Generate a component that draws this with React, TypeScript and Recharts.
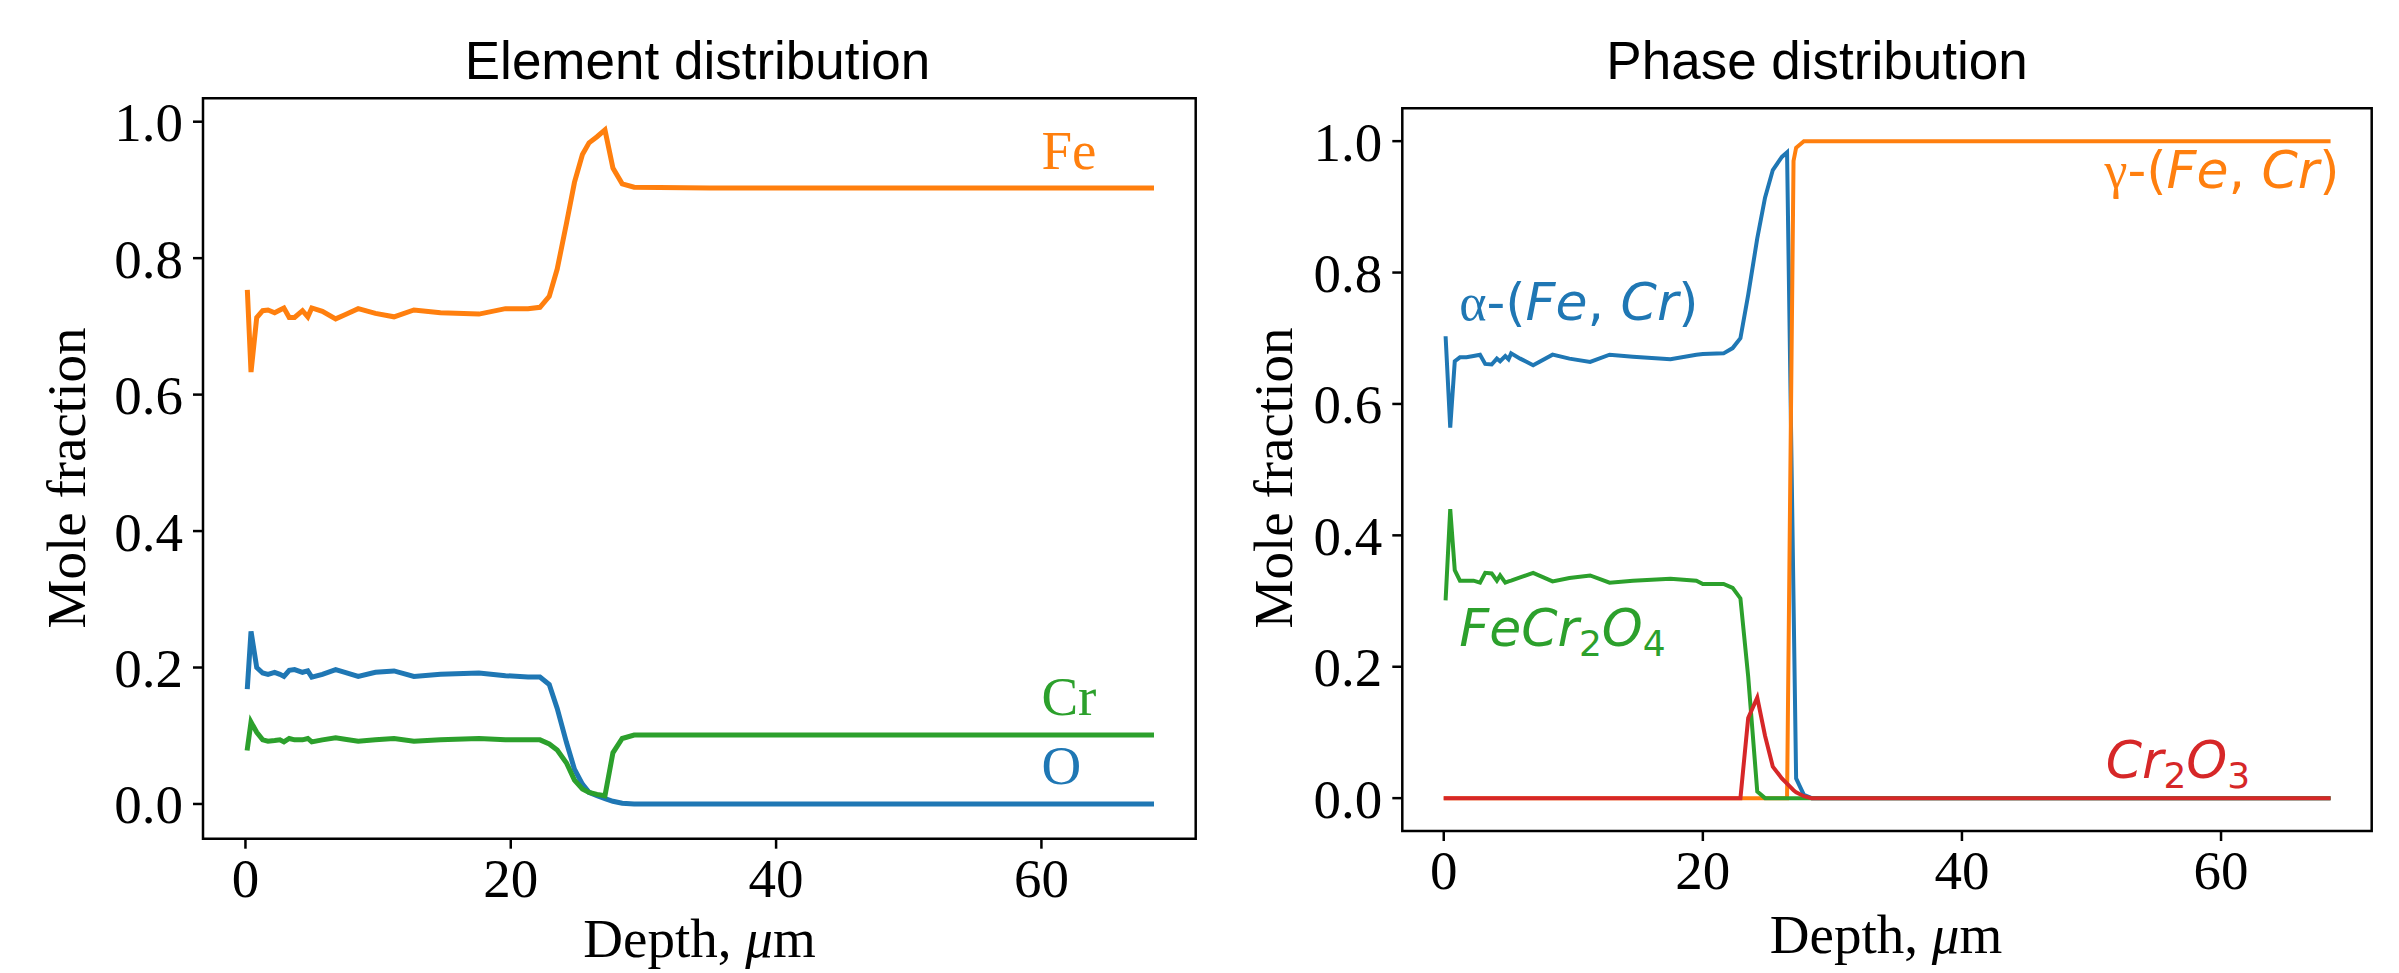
import React from 'react';
import { LineChart, Line, XAxis, YAxis, ReferenceArea, ReferenceDot } from 'recharts';

// ---------- Data: Element distribution ----------
const depthElem = [0.15, 0.42, 0.85, 1.3, 1.7, 2.2, 2.6, 2.9, 3.3, 3.7, 4.3, 4.7, 5.0, 5.8, 6.8, 7.5, 8.5, 9.8, 11.2, 12.7, 14.7, 17.6, 19.6, 21.3, 22.2, 22.9, 23.5, 24.2, 24.8, 25.4, 25.9, 26.5, 27.1, 27.7, 28.4, 29.3, 35, 68.3];
const feFrac = [0.75, 0.633, 0.713, 0.723, 0.724, 0.72, 0.724, 0.727, 0.713, 0.713, 0.723, 0.714, 0.727, 0.722, 0.711, 0.717, 0.726, 0.719, 0.714, 0.724, 0.72, 0.718, 0.726, 0.726, 0.728, 0.744, 0.784, 0.851, 0.911, 0.952, 0.969, 0.978, 0.988, 0.932, 0.909, 0.904, 0.903, 0.903];
const oFrac = [0.172, 0.253, 0.2, 0.192, 0.19, 0.193, 0.19, 0.187, 0.196, 0.197, 0.193, 0.195, 0.186, 0.19, 0.197, 0.193, 0.187, 0.193, 0.195, 0.187, 0.19, 0.192, 0.188, 0.186, 0.186, 0.175, 0.14, 0.09, 0.051, 0.029, 0.017, 0.012, 0.008, 0.004, 0.001, 0, 0, 0];
const crFrac = [0.082, 0.12, 0.105, 0.094, 0.092, 0.093, 0.094, 0.091, 0.096, 0.094, 0.094, 0.096, 0.091, 0.094, 0.097, 0.095, 0.092, 0.094, 0.096, 0.092, 0.094, 0.096, 0.094, 0.094, 0.094, 0.088, 0.079, 0.06, 0.035, 0.022, 0.017, 0.014, 0.012, 0.075, 0.096, 0.101, 0.101, 0.101];

// ---------- Data: Phase distribution ----------
const depthPhase = [0.15, 0.5, 0.85, 1.25, 1.75, 2.3, 2.8, 3.2, 3.7, 4.1, 4.35, 4.75, 5.0, 5.2, 5.9, 6.9, 8.4, 9.7, 11.3, 12.8, 14.6, 17.5, 19.5, 20.0, 21.6, 22.3, 22.9, 23.5, 24.2, 24.8, 25.4, 26.1, 26.5, 27.0, 27.2, 27.8, 28.4, 68.3];
const alphaFrac = [0.70, 0.564, 0.665, 0.671, 0.671, 0.673, 0.675, 0.661, 0.66, 0.669, 0.665, 0.673, 0.668, 0.677, 0.669, 0.659, 0.675, 0.669, 0.664, 0.675, 0.672, 0.668, 0.675, 0.676, 0.677, 0.685, 0.70, 0.766, 0.852, 0.914, 0.956, 0.976, 0.983, 0.30, 0.03, 0.005, 0, 0];
const gammaFrac = [0, 0, 0, 0, 0, 0, 0, 0, 0, 0, 0, 0, 0, 0, 0, 0, 0, 0, 0, 0, 0, 0, 0, 0, 0, 0, 0, 0, 0, 0, 0, 0, 0, 0.97, 0.99, 1.0, 1.0, 1.0];
const spinelFrac = [0.304, 0.44, 0.347, 0.331, 0.331, 0.331, 0.328, 0.343, 0.342, 0.331, 0.339, 0.328, 0.33, 0.331, 0.336, 0.343, 0.33, 0.335, 0.339, 0.328, 0.331, 0.334, 0.331, 0.326, 0.326, 0.32, 0.304, 0.185, 0.01, 0, 0, 0, 0, 0, 0, 0, 0, 0];
const chromiaFrac = [0, 0, 0, 0, 0, 0, 0, 0, 0, 0, 0, 0, 0, 0, 0, 0, 0, 0, 0, 0, 0, 0, 0, 0, 0, 0, 0, 0.122, 0.153, 0.095, 0.048, 0.03, 0.022, 0.012, 0.009, 0.003, 0, 0];

// ---------- Axes ----------
const xTicks = [0, 20, 40, 60];
const yTicks = [0, 0.2, 0.4, 0.6, 0.8, 1.0];
const X_DOMAIN: [number, number] = [-3.2, 71.63];
const Y_DOMAIN_ELEM: [number, number] = [-0.0509, 1.0343];
const Y_DOMAIN_PHASE: [number, number] = [-0.05, 1.05];

const elementData = depthElem.map((d, i) => ({ depth: d, o: oFrac[i], fe: feFrac[i], cr: crFrac[i] }));
const phaseData = depthPhase.map((d, i) => ({ depth: d, alpha: alphaFrac[i], gamma: gammaFrac[i], spinel: spinelFrac[i], chromia: chromiaFrac[i] }));

const BLUE = '#1f77b4';
const ORANGE = '#ff7f0e';
const GREEN = '#2ca02c';
const RED = '#d62728';

const SERIF = '"Liberation Serif", "Times New Roman", serif';
const SANS = '"Liberation Sans", Arial, sans-serif';
const MATH = '"DejaVu Sans", sans-serif';

const tickStyle = { fill: '#000', fontSize: 55, fontFamily: SERIF };
const tickLineStyle = { stroke: '#000', strokeWidth: 2.5 };

const fmt = (v: number) => v.toFixed(1);

function Title({ x, y, text }: { x: number; y: number; text: string }) {
  return (
    <text x={x} y={y} textAnchor="middle" fontFamily={SANS} fontSize={53} fill="#000">
      {text}
    </text>
  );
}

function XLabel({ x, y }: { x: number; y: number }) {
  return (
    <text x={x} y={y} textAnchor="middle" fontFamily={SERIF} fontSize={55} fill="#000">
      <tspan>Depth, </tspan>
      <tspan fontStyle="italic">μ</tspan>
      <tspan>m</tspan>
    </text>
  );
}

function YLabel({ x, y }: { x: number; y: number }) {
  return (
    <text
      x={x}
      y={y}
      textAnchor="middle"
      dominantBaseline="central"
      transform={`rotate(-90, ${x}, ${y})`}
      fontFamily={SERIF}
      fontSize={55}
      fill="#000"
    >
      Mole fraction
    </text>
  );
}

function ElementChart() {
  return (
    <LineChart width={1230} height={973} data={elementData} margin={{ top: 98.3, right: 34.3, bottom: 74.3, left: 103 }}>
      <XAxis
        dataKey="depth"
        type="number"
        domain={X_DOMAIN}
        ticks={xTicks}
        interval={0}
        allowDataOverflow
        height={60}
        tickSize={10}
        tickMargin={9}
        axisLine={false}
        tickLine={tickLineStyle}
        tick={tickStyle}
        label={{ content: () => <XLabel x={699.5} y={957} /> }}
      />
      <YAxis
        type="number"
        domain={Y_DOMAIN_ELEM}
        ticks={yTicks}
        interval={0}
        allowDataOverflow
        width={100}
        tickSize={10}
        tickMargin={10}
        axisLine={false}
        tickLine={tickLineStyle}
        tick={tickStyle}
        tickFormatter={fmt}
        label={{ content: () => <YLabel x={66} y={478} /> }}
      />
      <ReferenceArea
        x1={X_DOMAIN[0]}
        x2={X_DOMAIN[1]}
        y1={Y_DOMAIN_ELEM[0]}
        y2={Y_DOMAIN_ELEM[1]}
        ifOverflow="visible"
        fill="none"
        fillOpacity={0}
        stroke="#000"
        strokeWidth={2.5}
        label={{ content: () => <Title x={697.5} y={79} text="Element distribution" /> }}
      />
      <Line type="linear" dataKey="o" stroke={BLUE} strokeWidth={5} dot={false} strokeLinecap="square" isAnimationActive={false} />
      <Line type="linear" dataKey="fe" stroke={ORANGE} strokeWidth={5} dot={false} strokeLinecap="square" isAnimationActive={false} />
      <Line type="linear" dataKey="cr" stroke={GREEN} strokeWidth={5} dot={false} strokeLinecap="square" isAnimationActive={false} />
      <ReferenceDot
        x={60}
        y={0.93}
        shape={(p: any) => (
          <text x={p.cx} y={p.cy} fill={ORANGE} fontFamily={SERIF} fontSize={55}>Fe</text>
        )}
      />
      <ReferenceDot
        x={60}
        y={0.13}
        shape={(p: any) => (
          <text x={p.cx} y={p.cy} fill={GREEN} fontFamily={SERIF} fontSize={55}>Cr</text>
        )}
      />
      <ReferenceDot
        x={60}
        y={0.03}
        shape={(p: any) => (
          <text x={p.cx} y={p.cy} fill={BLUE} fontFamily={SERIF} fontSize={55}>O</text>
        )}
      />
    </LineChart>
  );
}

const ANN = 52;
const SUB = 36;

function PhaseChart() {
  return (
    <LineChart width={1169} height={973} data={phaseData} margin={{ top: 108.3, right: 27.3, bottom: 82, left: 72.3 }}>
      <XAxis
        dataKey="depth"
        type="number"
        domain={X_DOMAIN}
        ticks={xTicks}
        interval={0}
        allowDataOverflow
        height={60}
        tickSize={10}
        tickMargin={9}
        axisLine={false}
        tickLine={tickLineStyle}
        tick={tickStyle}
        label={{ content: () => <XLabel x={656} y={953} /> }}
      />
      <YAxis
        type="number"
        domain={Y_DOMAIN_PHASE}
        ticks={yTicks}
        interval={0}
        allowDataOverflow
        width={100}
        tickSize={10}
        tickMargin={10}
        axisLine={false}
        tickLine={tickLineStyle}
        tick={tickStyle}
        tickFormatter={fmt}
        label={{ content: () => <YLabel x={43} y={478} /> }}
      />
      <ReferenceArea
        x1={X_DOMAIN[0]}
        x2={X_DOMAIN[1]}
        y1={Y_DOMAIN_PHASE[0]}
        y2={Y_DOMAIN_PHASE[1]}
        ifOverflow="visible"
        fill="none"
        fillOpacity={0}
        stroke="#000"
        strokeWidth={2.5}
        label={{ content: () => <Title x={587} y={79} text="Phase distribution" /> }}
      />
      <Line type="linear" dataKey="alpha" stroke={BLUE} strokeWidth={4} dot={false} strokeLinecap="square" isAnimationActive={false} />
      <Line type="linear" dataKey="gamma" stroke={ORANGE} strokeWidth={4} dot={false} strokeLinecap="square" isAnimationActive={false} />
      <Line type="linear" dataKey="spinel" stroke={GREEN} strokeWidth={4} dot={false} strokeLinecap="square" isAnimationActive={false} />
      <Line type="linear" dataKey="chromia" stroke={RED} strokeWidth={4} dot={false} strokeLinecap="square" isAnimationActive={false} />
      <ReferenceDot
        x={1.2}
        y={0.728}
        shape={(p: any) => (
          <text x={p.cx} y={p.cy} fill={BLUE} fontFamily={MATH} fontSize={ANN}>
            <tspan fontFamily={SERIF}>α</tspan>
            <tspan>-(</tspan>
            <tspan fontStyle="italic">Fe</tspan>
            <tspan>, </tspan>
            <tspan fontStyle="italic">Cr</tspan>
            <tspan>)</tspan>
          </text>
        )}
      />
      <ReferenceDot
        x={1.2}
        y={0.232}
        shape={(p: any) => (
          <text x={p.cx} y={p.cy} fill={GREEN} fontFamily={MATH} fontSize={ANN}>
            <tspan fontStyle="italic">FeCr</tspan>
            <tspan fontSize={SUB} dy={10}>2</tspan>
            <tspan fontStyle="italic" dy={-10}>O</tspan>
            <tspan fontSize={SUB} dy={10}>4</tspan>
          </text>
        )}
      />
      <ReferenceDot
        x={51}
        y={0.929}
        shape={(p: any) => (
          <text x={p.cx} y={p.cy} fill={ORANGE} fontFamily={MATH} fontSize={ANN}>
            <tspan fontFamily={SERIF}>γ</tspan>
            <tspan>-(</tspan>
            <tspan fontStyle="italic">Fe</tspan>
            <tspan>, </tspan>
            <tspan fontStyle="italic">Cr</tspan>
            <tspan>)</tspan>
          </text>
        )}
      />
      <ReferenceDot
        x={51.1}
        y={0.03}
        shape={(p: any) => (
          <text x={p.cx} y={p.cy} fill={RED} fontFamily={MATH} fontSize={ANN}>
            <tspan fontStyle="italic">Cr</tspan>
            <tspan fontSize={SUB} dy={10}>2</tspan>
            <tspan fontStyle="italic" dy={-10}>O</tspan>
            <tspan fontSize={SUB} dy={10}>3</tspan>
          </text>
        )}
      />
    </LineChart>
  );
}

export default function App() {
  return (
    <div style={{ position: 'absolute', left: 0, top: 0, width: 2399, height: 973, background: '#fff', overflow: 'hidden' }}>
      <div style={{ position: 'absolute', left: 0, top: 0 }}>
        <ElementChart />
      </div>
      <div style={{ position: 'absolute', left: 1230, top: 0 }}>
        <PhaseChart />
      </div>
    </div>
  );
}
